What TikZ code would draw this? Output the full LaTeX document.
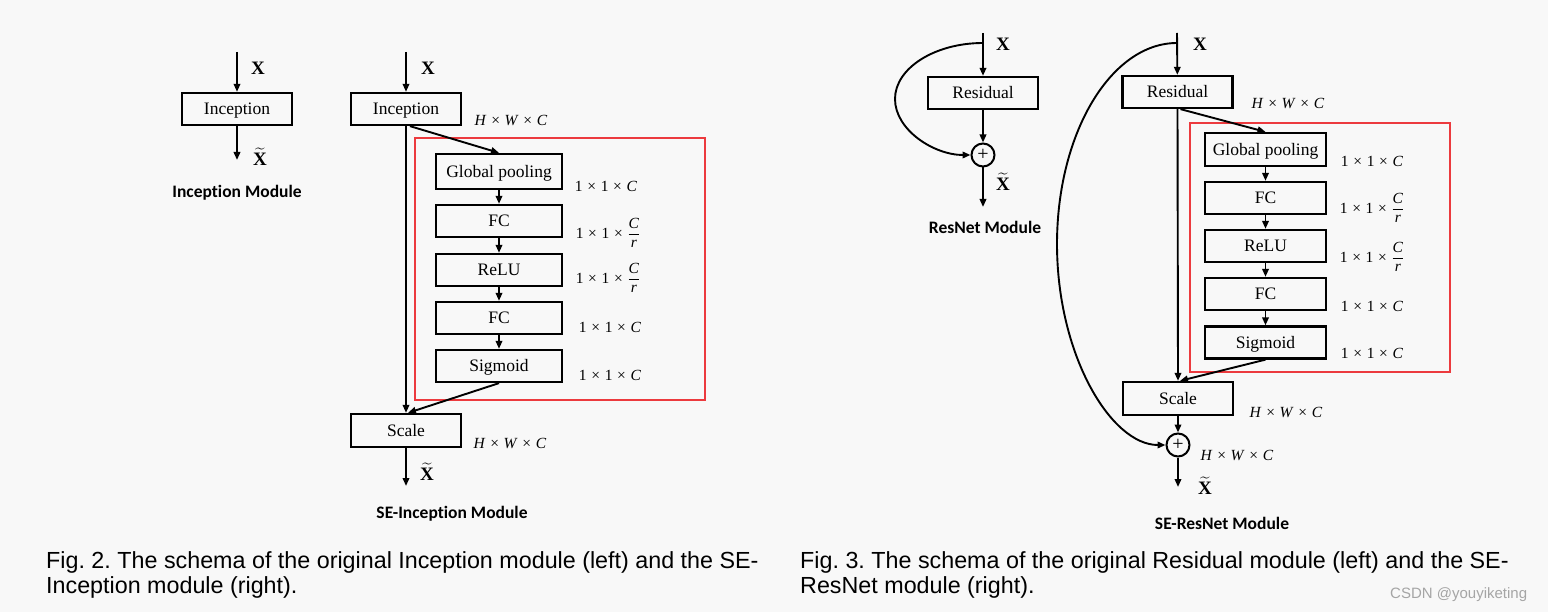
\documentclass[tikz,border=0pt]{standalone}
\usepackage{amsmath}
\usepackage{fontspec}
\setmainfont{Liberation Serif}
\newfontfamily\capfont{Liberation Sans}
\newfontfamily\modfont[Ligatures=NoCommon]{Carlito}
\usetikzlibrary{arrows.meta}
\frenchspacing

\definecolor{bgcol}{RGB}{248,248,248}
\definecolor{serect}{RGB}{236,58,62}
\definecolor{wmcol}{RGB}{165,165,165}

\newcommand{\tms}{\hspace{.3em}×\hspace{.3em}}
\newcommand{\hwc}{\textit{H}\tms\textit{W}\tms\textit{C}}
\newcommand{\ooc}{1\tms1\tms\textit{C}}
\newcommand{\oocr}{1\tms1\tms$\genfrac{}{}{1.6pt}{0}{\text{\itshape C}}{\text{\itshape r}}$}
\newcommand{\xin}{\textbf{X}}
\newcommand{\xout}{$\widetilde{\text{\bfseries X}}$}

\begin{document}
\begin{tikzpicture}[x=1pt,y=-1pt,
  blk/.style={draw,line width=2.3pt,minimum width=110pt,minimum height=32pt,inner sep=0pt,
    text height=11.6pt,text depth=0pt,font=\fontsize{17.5}{20}\selectfont},
  seblk/.style={blk,minimum width=126pt},
  arr/.style={line width=1.9pt,-{Triangle[length=8pt,width=6.5pt]}},
  sebox/.style={serect,line width=2.4pt},
  sum/.style={draw,circle,line width=2pt,minimum size=23pt,inner sep=0pt,
    font=\fontsize{20}{20}\selectfont},
  dim/.style={inner sep=0pt,font=\fontsize{15.5}{18}\selectfont},
  xlbl/.style={inner sep=0pt,font=\fontsize{19}{20}\selectfont},
  ttl/.style={inner sep=0pt,font=\modfont\bfseries\fontsize{17.5}{20}\selectfont},
  figcap/.style={inner sep=0pt,anchor=base west,font=\capfont\fontsize{23.3}{25}\selectfont}]
  \fill[bgcol] (0,0) rectangle (1548,612);
  \useasboundingbox (0,0) rectangle (1548,612);

  % Inception module
  \coordinate (incin) at (237,52);
  \node[blk] (inc) at (237,109) {Inception};
  \coordinate (incout) at (237,160);
  \draw[arr] (incin) -- (inc);
  \draw[arr] (inc) -- (incout);
  \node[xlbl] (incx) at (258,68) {\xin};
  \node[xlbl] (incxt) at (260,157) {\xout};
  \node[ttl] (incttl) at (237,193) {Inception Module};

  % SE-Inception module
  \draw[sebox] (415,138) rectangle (705,400);
  \coordinate (seincin) at (406,52);
  \node[blk] (seinc) at (406,109) {Inception};
  \node[seblk,minimum height=35pt] (gp) at (499,171.5) {Global pooling};
  \node[seblk] (fc) at (499,221) {FC};
  \node[seblk] (relu) at (499,270) {ReLU};
  \node[seblk] (fcb) at (499,318) {FC};
  \node[seblk] (sig) at (499,366) {Sigmoid};
  \node[blk,minimum height=33pt] (scale) at (406,430.5) {Scale};
  \coordinate (scaleout) at (406,486);
  \draw[arr] (seincin) -- (seinc);
  \draw[arr] ([xshift=4pt]seinc.south) -- (gp.north);
  \draw[arr] (seinc.south) -- (scale.north);
  \foreach \a/\b in {gp/fc,fc/relu,relu/fcb,fcb/sig}
    \draw[arr] (\a) -- (\b);
  \draw[arr] (sig.south) -- ([xshift=2pt]scale.north);
  \draw[arr] (scale) -- (scaleout);
  \node[xlbl] (seincx) at (428,68) {\xin};
  \node[xlbl] (seincxt) at (427,472) {\xout};
  \node[dim] (seinchwc) at (511,120) {\hwc};
  \node[dim] (gpdim) at (606,186) {\ooc};
  \node[dim] (fcdim) at (608,233) {\oocr};
  \node[dim] (reludim) at (608,278) {\oocr};
  \node[dim] (fcbdim) at (610,327) {\ooc};
  \node[dim] (sigdim) at (610,375) {\ooc};
  \node[dim] (scalehwc) at (510,443) {\hwc};
  \node[ttl] (seincttl) at (452,514) {SE-Inception Module};

  % ResNet module
  \coordinate (resin) at (983,33);
  \coordinate (resfork) at (983,43);
  \node[blk] (res) at (983,93) {Residual};
  \node[sum] (add) at (983,155) {+};
  \coordinate (resout) at (983,207);
  \draw[arr] (resin) -- (res);
  \draw[arr] (res) -- (add);
  \draw[arr] (add) -- (resout);
  \draw[arr] (resfork) .. controls (935,43) and (895,68) .. (895,99)
    .. controls (895,130) and (934,155) .. (add.west);
  \node[xlbl] (resx) at (1003,44) {\xin};
  \node[xlbl] (resxt) at (1003,182) {\xout};
  \node[ttl] (resttl) at (985,227) {ResNet Module};

  % SE-ResNet module
  \draw[sebox] (1190,123) rectangle (1450,372);
  \coordinate (seresin) at (1177,33);
  \coordinate (seresfork) at (1177,43);
  \node[blk] (seres) at (1177.5,92) {Residual};
  \node[seblk,minimum width=121pt,minimum height=33pt] (gpr) at (1265.5,149.5) {Global pooling};
  \node[seblk,minimum width=121pt] (fcr) at (1265.5,198) {FC};
  \node[seblk,minimum width=121pt] (relur) at (1265.5,246) {ReLU};
  \node[seblk,minimum width=121pt] (fcbr) at (1265.5,294) {FC};
  \node[seblk,minimum width=121pt] (sigr) at (1265.5,342.5) {Sigmoid};
  \node[blk,minimum height=33pt] (scaler) at (1178,398.5) {Scale};
  \node[sum] (addr) at (1178,445) {+};
  \coordinate (seresout) at (1178,487);
  \draw[arr] (seresin) -- (seres);
  \draw[arr] ([xshift=3pt]seres.south) -- (gpr.north);
  \draw[arr] (seres.south) -- (scaler.north);
  \foreach \a/\b in {gpr/fcr,fcr/relur,relur/fcbr,fcbr/sigr}
    \draw[arr] (\a) -- (\b);
  \draw[arr] (sigr.south) -- ([xshift=2pt]scaler.north);
  \draw[arr] (scaler) -- (addr);
  \draw[arr] (addr) -- (seresout);
  \draw[arr] (seresfork) .. controls (1111,43) and (1057,133) .. (1057,244)
    .. controls (1057,355) and (1111,445) .. (addr.west);
  \node[xlbl] (seresx) at (1200,44) {\xin};
  \node[xlbl] (seresxt) at (1205,486) {\xout};
  \node[dim] (sereshwc) at (1288,103) {\hwc};
  \node[dim] (gprdim) at (1372,161) {\ooc};
  \node[dim] (fcrdim) at (1372,208) {\oocr};
  \node[dim] (relurdim) at (1372,257) {\oocr};
  \node[dim] (fcbrdim) at (1372,306) {\ooc};
  \node[dim] (sigrdim) at (1372,353) {\ooc};
  \node[dim] (scalerhwc) at (1286,412) {\hwc};
  \node[dim] (addrhwc) at (1237,455) {\hwc};
  \node[ttl] (seresttl) at (1222,523) {SE-ResNet Module};

  % captions
  \node[figcap] (cap2a) at (46,568) {Fig. 2. The schema of the original Inception module (left) and the SE-};
  \node[figcap] (cap2b) at (46,593) {Inception module (right).};
  \node[figcap] (cap3a) at (800,568) {Fig. 3. The schema of the original Residual module (left) and the SE-};
  \node[figcap] (cap3b) at (800,593) {ResNet module (right).};
  \node[inner sep=0pt,anchor=base west,text=wmcol,font=\capfont\fontsize{15}{15}\selectfont]
    (wm) at (1390,598) {CSDN @youyiketing};
\end{tikzpicture}
\end{document}
